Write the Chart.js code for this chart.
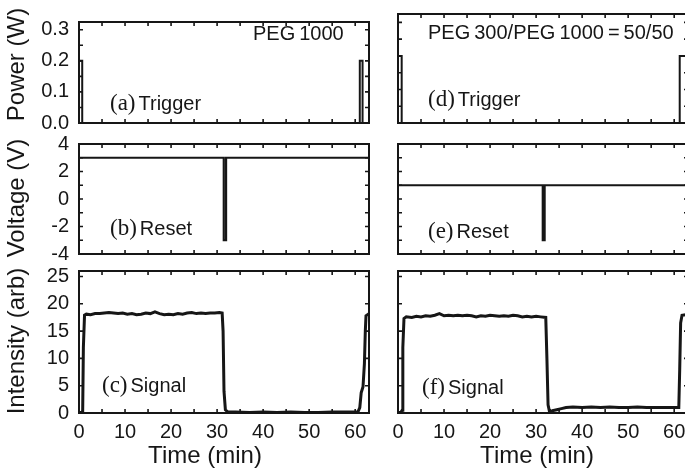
<!DOCTYPE html>
<html>
<head>
<meta charset="utf-8">
<script src="https://cdn.jsdelivr.net/npm/chart.js@4.4.1/dist/chart.umd.min.js"></script>
<style>
  html, body { margin: 0; padding: 0; width: 685px; height: 469px; overflow: hidden; background: #fff; }
  canvas { position: absolute; left: 0; top: 0; }
</style>
</head>
<body>
<canvas id="pa" width="700" height="469"></canvas>
<canvas id="pb" width="700" height="469"></canvas>
<canvas id="pc" width="700" height="469"></canvas>
<canvas id="pd" width="700" height="469"></canvas>
<canvas id="pe" width="700" height="469"></canvas>
<canvas id="pf" width="700" height="469"></canvas>
<script>
// ---- tick labels ----
const TIME_TICKS = [0, 10, 20, 30, 40, 50, 60];
const POWER_TICKS = [0, 0.1, 0.2, 0.3];
const VOLT_TICKS = [-4, -2, 0, 2, 4];
const INTENSITY_TICKS = [0, 5, 10, 15, 20, 25];
const TIME_MAX = 63;

// ---- PEG1000 (left column) ----
const triggerTimeA  = [0, 0,   0.7, 0.7, 61.0, 61.0, 61.6, 61.6, 63];
const triggerPowerA = [0, 0.2, 0.2, 0,   0,    0.2,  0.2,  0,    0];

const resetTimeB = [0, 31.45, 31.45, 31.95, 31.95, 63];
const resetVoltB = [3, 3,     -3,    -3,    3,     3];

const signalTimeC = [0, 0.5, 0.8, 0.95, 1.2, 1.6, 2.5, 3.5, 4.5, 5.5, 6.5, 7.5, 8.5, 9.5,
  10.5, 11.5, 12.5, 13.5, 14.5, 15.5, 16.5, 17.5, 18.5, 19.5, 20.5, 21.5, 22.5, 23.5,
  24.5, 25.5, 26.5, 27.5, 28.5, 29.5, 30.5, 31.1, 31.3, 31.5, 31.8, 32.3, 34, 37, 40,
  43, 46, 49, 52, 55, 58, 60.6, 61.0, 61.3, 61.7, 62.0, 62.2, 62.35, 63];
const signalC = [0.1, 0.1, 0.3, 12, 17.9, 18.1, 18.0, 18.2, 18.2, 18.3, 18.4, 18.3, 18.2, 18.3,
  18.1, 18.2, 18.0, 18.1, 18.3, 18.2, 18.5, 18.2, 18.0, 18.1, 18.0, 18.2, 18.1, 18.3,
  18.4, 18.2, 18.3, 18.2, 18.3, 18.3, 18.4, 18.3, 15, 4, 0.6, 0.2, 0.2, 0.1, 0.2,
  0.1, 0.2, 0.1, 0.1, 0.2, 0.2, 0.2, 1.0, 3.7, 4.8, 9, 15, 17.8, 18.2];

// ---- PEG300/PEG1000 = 50/50 (right column) ----
const triggerTimeD  = [0, 0,   0.8, 0.8, 61.2, 61.2, 62.8, 62.8, 63];
const triggerPowerD = [0, 0.2, 0.2, 0,   0,    0.2,  0.2,  0,    0];

const resetTimeE = [0, 31.45, 31.45, 31.85, 31.85, 63];
const resetVoltE = [1, 1,     -3,    -3,    1,     1];

const signalTimeF = [0, 0.6, 0.9, 1.05, 1.3, 1.8, 3, 4, 5, 6, 7, 8, 9, 10, 11, 12, 13, 14,
  15, 16, 17, 18, 19, 20, 21, 22, 23, 24, 25, 26, 27, 28, 29, 30, 31, 32.1, 32.35, 32.6,
  32.9, 33.5, 34.5, 35.5, 36.5, 38, 40, 42, 44, 46, 48, 50, 52, 54, 56, 58, 60, 61.0,
  61.2, 61.4, 61.7, 62.5, 63];
const signalF = [0.1, 0.1, 0.5, 12, 17.3, 17.6, 17.5, 17.7, 17.6, 17.8, 17.7, 17.9, 18.2, 17.8, 17.9, 17.8, 17.9, 17.8,
  17.9, 17.8, 17.6, 17.8, 17.7, 17.9, 17.8, 17.7, 17.8, 17.7, 17.9, 17.8, 17.6, 17.7, 17.6, 17.7, 17.6, 17.5, 10, 1.5,
  0.3, 0.4, 0.6, 0.8, 1.0, 1.1, 1.0, 1.1, 1.0, 1.1, 1.0, 1.0, 1.1, 1.0, 1.0, 1.0, 1.0, 1.0,
  8, 16.5, 17.9, 18.0, 18.0];

// ---- drawing ----
const INK = '#161616';
const SANS = "'Liberation Sans', Arial, Helvetica, sans-serif";
const SERIF = "'Liberation Serif', 'Times New Roman', serif";
const CW = 700, CH = 469;
const Y_AXIS_W = 74, X_AXIS_H = 30, TICK = 4;

Chart.defaults.font.family = SANS;
Chart.defaults.color = INK;

const series = (t, v) => t.map((x, i) => ({ x, y: v[i] }));
const label = (tag, word, dx, dy) => ({ dx, dy, parts: [
  { text: tag, font: `23px ${SERIF}` }, { gap: 3 }, { text: word, font: `20px ${SANS}` }] });
const plain = (text, dx, dy) => ({ dx, dy, parts: [{ text, font: `20px ${SANS}` }] });

const panels = [
  { id: 'pa', box: [79, 14, 369, 123], t: triggerTimeA, v: triggerPowerA, w: 2,
    yMin: 0, yMax: 0.325, yTicks: POWER_TICKS, yMinor: 0.05, fmt: v => v.toFixed(1),
    showY: true, showX: false, yTitle: 'Power (W)', yTitleDy: -8,
    notes: [label('(a)', 'Trigger', 31, 82), plain('PEG\u20091000', 174, 12)] },
  { id: 'pb', box: [79, 144, 369, 254], t: resetTimeB, v: resetVoltB, w: 2.2,
    yMin: -4, yMax: 4, yTicks: VOLT_TICKS, yMinor: 1, fmt: v => String(v),
    showY: true, showX: false, yTitle: 'Voltage (V)', yTitleDy: -1,
    notes: [label('(b)', 'Reset', 31, 85)] },
  { id: 'pc', box: [79, 271, 369, 413], t: signalTimeC, v: signalC, w: 3,
    yMin: 0, yMax: 26, yTicks: INTENSITY_TICKS, yMinor: 5, fmt: v => String(v),
    showY: true, showX: true, yTitle: 'Intensity (arb)', yTitleDy: -1, xTitleDx: 126,
    notes: [label('(c)', 'Signal', 23, 115)] },
  { id: 'pd', box: [398, 14, 688, 123], t: triggerTimeD, v: triggerPowerD, w: 2,
    yMin: 0, yMax: 0.325, yTicks: POWER_TICKS, yMinor: 0.05, fmt: v => v.toFixed(1),
    showY: false, showX: false,
    notes: [label('(d)', 'Trigger', 30, 86),
            plain('PEG\u2009300/PEG\u20091000\u2009=\u200950/50', 30, 19)] },
  { id: 'pe', box: [398, 144, 688, 254], t: resetTimeE, v: resetVoltE, w: 2.2,
    yMin: -4, yMax: 4, yTicks: VOLT_TICKS, yMinor: 1, fmt: v => String(v),
    showY: false, showX: false,
    notes: [label('(e)', 'Reset', 30, 88)] },
  { id: 'pf', box: [398, 271, 688, 413], t: signalTimeF, v: signalF, w: 3,
    yMin: 0, yMax: 26, yTicks: INTENSITY_TICKS, yMinor: 5, fmt: v => String(v),
    showY: false, showX: true, xTitleDx: 139,
    notes: [label('(f)', 'Signal', 24, 117)] }
];

// Frame with inward ticks on all four sides, axis titles and panel captions.
function framePlugin(p) {
  return {
    id: 'panelFrame',
    afterDatasetsDraw(chart) {
      const { ctx, chartArea: a, scales: { x, y } } = chart;
      ctx.save();
      ctx.strokeStyle = INK;
      ctx.lineWidth = 2;
      ctx.strokeRect(a.left, a.top, a.right - a.left, a.bottom - a.top);

      ctx.lineWidth = 1.6;
      ctx.beginPath();
      const nx = Math.floor(x.max / 5 + 1e-9);
      for (let i = 1; i <= nx; i++) {
        const px = x.getPixelForValue(i * 5);
        if (px >= a.right - 1) continue;
        ctx.moveTo(px, a.bottom); ctx.lineTo(px, a.bottom - TICK);
        ctx.moveTo(px, a.top);    ctx.lineTo(px, a.top + TICK);
      }
      const k0 = Math.ceil(y.min / p.yMinor - 1e-9), k1 = Math.floor(y.max / p.yMinor + 1e-9);
      for (let k = k0; k <= k1; k++) {
        const py = y.getPixelForValue(k * p.yMinor);
        if (py >= a.bottom - 1 || py <= a.top + 1) continue;
        ctx.moveTo(a.left, py);  ctx.lineTo(a.left + TICK, py);
        ctx.moveTo(a.right, py); ctx.lineTo(a.right - TICK, py);
      }
      ctx.stroke();

      ctx.fillStyle = INK;
      ctx.textBaseline = 'middle';
      ctx.textAlign = 'left';
      for (const n of p.notes) {
        let cx = a.left + n.dx;
        const cy = a.top + n.dy;
        for (const part of n.parts) {
          if (part.gap) { cx += part.gap; continue; }
          ctx.font = part.font;
          ctx.fillText(part.text, cx, cy);
          cx += ctx.measureText(part.text).width;
        }
      }

      ctx.font = `24px ${SANS}`;
      ctx.textAlign = 'center';
      if (p.yTitle) {
        ctx.save();
        ctx.translate(17, (a.top + a.bottom) / 2 + p.yTitleDy);
        ctx.rotate(-Math.PI / 2);
        ctx.fillText(p.yTitle, 0, 0);
        ctx.restore();
      }
      if (p.showX) {
        ctx.fillText('Time (min)', a.left + p.xTitleDx, a.bottom + 43);
      }
      ctx.restore();
    }
  };
}

for (const p of panels) {
  const [l, t, r, b] = p.box;
  const yW = p.showY ? Y_AXIS_W : 0;
  const xH = p.showX ? X_AXIS_H : 0;
  new Chart(document.getElementById(p.id), {
    type: 'line',
    data: {
      datasets: [{
        data: series(p.t, p.v),
        borderColor: INK, borderWidth: p.w, pointRadius: 0, tension: 0, fill: false,
        borderJoinStyle: 'miter'
      }]
    },
    options: {
      responsive: false, animation: false, events: [],
      layout: { padding: { left: l - yW, top: t, right: CW - r, bottom: CH - b - xH } },
      plugins: { legend: { display: false }, tooltip: { enabled: false } },
      scales: {
        x: {
          type: 'linear', min: 0, max: TIME_MAX, display: p.showX,
          grid: { display: false, drawTicks: false }, border: { display: false },
          afterBuildTicks: s => { s.ticks = TIME_TICKS.map(v => ({ value: v })); },
          afterFit: s => { s.height = xH; },
          ticks: { font: { size: 20 }, color: INK, padding: 7, maxRotation: 0, autoSkip: false }
        },
        y: {
          type: 'linear', min: p.yMin, max: p.yMax, display: p.showY,
          grid: { display: false, drawTicks: false }, border: { display: false },
          afterBuildTicks: s => { s.ticks = p.yTicks.map(v => ({ value: v })); },
          afterFit: s => { s.width = yW; },
          ticks: { font: { size: 20 }, color: INK, padding: 10, autoSkip: false,
                   callback: v => p.fmt(v) }
        }
      }
    },
    plugins: [framePlugin(p)]
  });
}
</script>
</body>
</html>
